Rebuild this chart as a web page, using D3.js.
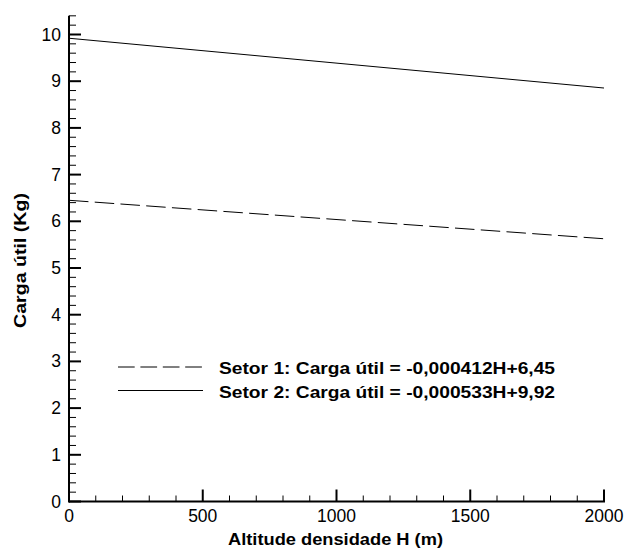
<!DOCTYPE html>
<html>
<head>
<meta charset="utf-8">
<script src="https://cdn.jsdelivr.net/npm/d3@7"></script>
<style>
  body { margin: 0; background: #fff; }
  svg { display: block; font-family: "Liberation Sans", Arial, sans-serif; }
</style>
</head>
<body>
<div id="chart"></div>
<script>
// altitude (m) and payload (kg) at the ends of each fitted line
const altitude = [0, 2000];
const setor1 = [6.45, 5.626];
const setor2 = [9.92, 8.854];
const legendLabels = [
    'Setor 1: Carga útil = -0,000412H+6,45',
    'Setor 2: Carga útil = -0,000533H+9,92'
];
const xTicks = [0, 500, 1000, 1500, 2000];
const yTicks = [0, 1, 2, 3, 4, 5, 6, 7, 8, 9, 10];

const width = 627, height = 549;

const svg = d3.select('#chart').append('svg')
    .attr('width', width)
    .attr('height', height);

const x = d3.scaleLinear().domain([0, 2000]).range([69, 604]);
const y = d3.scaleLinear().domain([0, 10]).range([501.5, 34.5]);
const yTop = y(10.4);

const g = svg.append('g');

// minor ticks
const xMinor = d3.range(0, 2001, 100).filter(v => v % 500 !== 0);
const yMinor = d3.range(0, 10.41, 0.2).filter(v => Math.abs(v - Math.round(v)) > 1e-6);

g.selectAll('.xminor').data(xMinor).join('line')
    .attr('x1', d => x(d)).attr('x2', d => x(d))
    .attr('y1', y(0)).attr('y2', y(0) - 6)
    .attr('stroke', '#000').attr('stroke-width', 1);
g.selectAll('.xmajor').data(xTicks).join('line')
    .attr('x1', d => x(d)).attr('x2', d => x(d))
    .attr('y1', y(0)).attr('y2', y(0) - 12)
    .attr('stroke', '#000').attr('stroke-width', 2);

g.selectAll('.yminor').data(yMinor).join('line')
    .attr('x1', x(0)).attr('x2', x(0) + 7)
    .attr('y1', d => y(d)).attr('y2', d => y(d))
    .attr('stroke', '#000').attr('stroke-width', 1);
g.selectAll('.ymajor').data(yTicks).join('line')
    .attr('x1', x(0)).attr('x2', x(0) + 12)
    .attr('y1', d => y(d)).attr('y2', d => y(d))
    .attr('stroke', '#000').attr('stroke-width', 2);

// axis lines
g.append('line')
    .attr('x1', x(0)).attr('x2', x(2000) + 1)
    .attr('y1', y(0)).attr('y2', y(0))
    .attr('stroke', '#000').attr('stroke-width', 2);
g.append('line')
    .attr('x1', x(0)).attr('x2', x(0))
    .attr('y1', yTop).attr('y2', y(0) + 1)
    .attr('stroke', '#000').attr('stroke-width', 2);

// tick labels
g.selectAll('.xlab').data(xTicks).join('text')
    .attr('x', d => x(d)).attr('y', 522)
    .attr('text-anchor', 'middle')
    .attr('font-size', '17.5px')
    .text(d => d);
g.selectAll('.ylab').data(yTicks).join('text')
    .attr('x', 61).attr('y', d => y(d) + 6)
    .attr('text-anchor', 'end')
    .attr('font-size', '17.5px')
    .text(d => d);

// axis titles
svg.append('text')
    .attr('x', 228).attr('y', 545)
    .attr('font-size', '16px').attr('font-weight', 'bold')
    .attr('textLength', 215).attr('lengthAdjust', 'spacingAndGlyphs')
    .text('Altitude densidade H (m)');
svg.append('text')
    .attr('transform', 'translate(26, 328) rotate(-90)')
    .attr('font-size', '17px').attr('font-weight', 'bold')
    .attr('textLength', 135).attr('lengthAdjust', 'spacingAndGlyphs')
    .text('Carga útil (Kg)');

// data lines
const line = d3.line().x((d, i) => x(altitude[i])).y(d => y(d));
const series = [
    { values: setor1, dash: '19.5,6.3', legendDash: '16.7,5.7' },
    { values: setor2, dash: null, legendDash: null }
];
series.forEach(s => {
    g.append('path')
        .datum(s.values)
        .attr('d', line)
        .attr('fill', 'none')
        .attr('stroke', '#000')
        .attr('stroke-width', 1)
        .attr('stroke-dasharray', s.dash);
});

// legend
const legend = svg.append('g');
series.forEach((s, i) => {
    const ly = 367 + i * 23.5;
    legend.append('line')
        .attr('x1', 118).attr('x2', 203)
        .attr('y1', ly).attr('y2', ly)
        .attr('stroke', '#000').attr('stroke-width', 1)
        .attr('stroke-dasharray', s.legendDash);
    legend.append('text')
        .attr('x', 219).attr('y', ly + 7)
        .attr('font-size', '16px').attr('font-weight', 'bold')
        .attr('textLength', 336).attr('lengthAdjust', 'spacingAndGlyphs')
        .text(legendLabels[i]);
});
</script>
</body>
</html>
